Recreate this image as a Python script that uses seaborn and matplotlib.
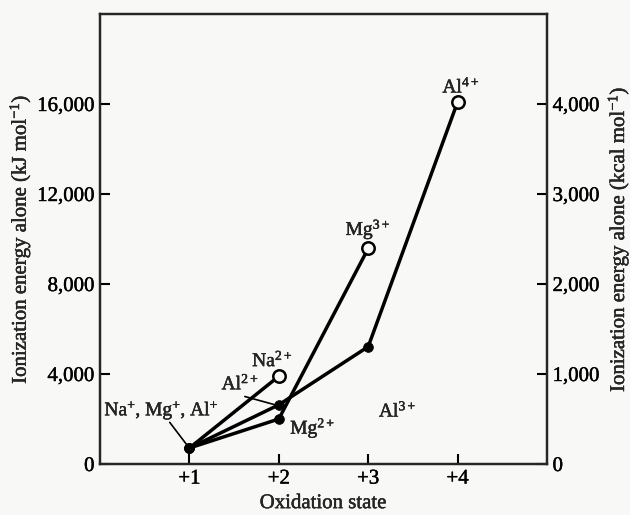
import matplotlib
matplotlib.use("Agg")
import matplotlib.pyplot as plt
import matplotlib.patheffects as pe
import seaborn as sns
import pandas as pd
from matplotlib.ticker import FuncFormatter

# ---- data (kJ/mol) ----
states_na = [1, 2]
ie_na = [710, 3900]
states_mg = [1, 2, 3]
ie_mg = [710, 2000, 9580]
states_al = [1, 2, 3, 4]
ie_al = [710, 2630, 5215, 16090]

x_ticks = [1, 2, 3, 4]
x_ticklabels = ["+1", "+2", "+3", "+4"]
y_ticks = [0, 4000, 8000, 12000, 16000]
y2_ticks = [0, 1000, 2000, 3000, 4000]

sns.set_theme(style="ticks")
plt.rcParams["font.family"] = ["Liberation Serif", "DejaVu Serif"]
plt.rcParams["mathtext.fontset"] = "custom"
plt.rcParams["mathtext.rm"] = "Liberation Serif"
plt.rcParams["mathtext.it"] = "Liberation Serif"
plt.rcParams["mathtext.bf"] = "Liberation Serif:bold"

heavy = [pe.withStroke(linewidth=0.3, foreground="black")]

rows = []
for name, xs, ys in [("Na", states_na, ie_na), ("Mg", states_mg, ie_mg), ("Al", states_al, ie_al)]:
    for i, (x, y) in enumerate(zip(xs, ys)):
        rows.append({"element": name, "state": x, "ie": y, "end": i == len(xs) - 1})
df = pd.DataFrame(rows)

bg = "#f8f8f6"
fig = plt.figure(figsize=(6.3, 5.15), dpi=100, facecolor=bg)
ax = fig.add_axes([100 / 630, 1 - 464 / 515, 447 / 630, 450 / 515])
ax.set_facecolor(bg)

sns.lineplot(data=df, x="state", y="ie", hue="element", palette=["black"] * 3,
             linewidth=2.5, legend=False, ax=ax, sort=False, estimator=None)
sns.scatterplot(data=df[~df["end"]], x="state", y="ie", color="black", s=50,
                edgecolor="black", linewidth=0.5, legend=False, ax=ax, zorder=5)
sns.scatterplot(data=df[df["end"]], x="state", y="ie", color=bg, s=80,
                edgecolor="black", linewidth=1.8, legend=False, ax=ax, zorder=6)

fs_ax = 15
ax.set_xlim(0, 5)
ax.set_ylim(0, 20000)
ax.set_xticks(x_ticks)
ax.set_xticklabels(x_ticklabels)
ax.set_yticks(y_ticks)
ax.yaxis.set_major_formatter(FuncFormatter(lambda v, p: f"{int(v):,}"))
ax.set_xlabel("Oxidation state", fontsize=fs_ax, labelpad=4)
ax.set_ylabel(r"Ionization energy alone (kJ mol$^{-1}$)", fontsize=fs_ax, labelpad=3)
ax.tick_params(direction="in", length=7, width=1.5, labelsize=fs_ax, colors="black", pad=4)
for s in ax.spines.values():
    s.set_linewidth(1.6)
    s.set_color("black")

ax2 = ax.twinx()
ax2.set_ylim(0, 5000)
ax2.set_yticks(y2_ticks)
ax2.yaxis.set_major_formatter(FuncFormatter(lambda v, p: f"{int(v):,}"))
ax2.set_ylabel(r"Ionization energy alone (kcal mol$^{-1}$)", fontsize=fs_ax, labelpad=4)
ax2.tick_params(direction="in", length=7, width=1.5, labelsize=fs_ax, colors="black", pad=4)
for s in ax2.spines.values():
    s.set_linewidth(1.6)

fs = 14
# leader lines
ax.annotate("", xy=(0.985, 780), xytext=(0.78, 1850),
            arrowprops=dict(arrowstyle="-", color="black", lw=1.2, shrinkA=0, shrinkB=0))
ax.annotate("", xy=(1.95, 2640), xytext=(1.62, 3000),
            arrowprops=dict(arrowstyle="-", color="black", lw=1.2, shrinkA=0, shrinkB=0))

labels = [
    (0.69, 2400, r"Na$^{+}$, Mg$^{+}$, Al$^{+}$"),
    (1.57, 3610, r"Al$^{2+}$"),
    (1.93, 4640, r"Na$^{2+}$"),
    (2.38, 1600, r"Mg$^{2+}$"),
    (3.0, 10430, r"Mg$^{3+}$"),
    (3.33, 2400, r"Al$^{3+}$"),
    (4.04, 16800, r"Al$^{4+}$"),
]
for lx, ly, txt in labels:
    ax.text(lx, ly, txt, ha="center", va="center", fontsize=fs, path_effects=heavy)

for t in ax.get_xticklabels() + ax.get_yticklabels() + ax2.get_yticklabels():
    t.set_path_effects(heavy)
ax.xaxis.label.set_path_effects(heavy)
ax.yaxis.label.set_path_effects(heavy)
ax2.yaxis.label.set_path_effects(heavy)

fig.savefig("out.png", dpi=100, facecolor=bg)
